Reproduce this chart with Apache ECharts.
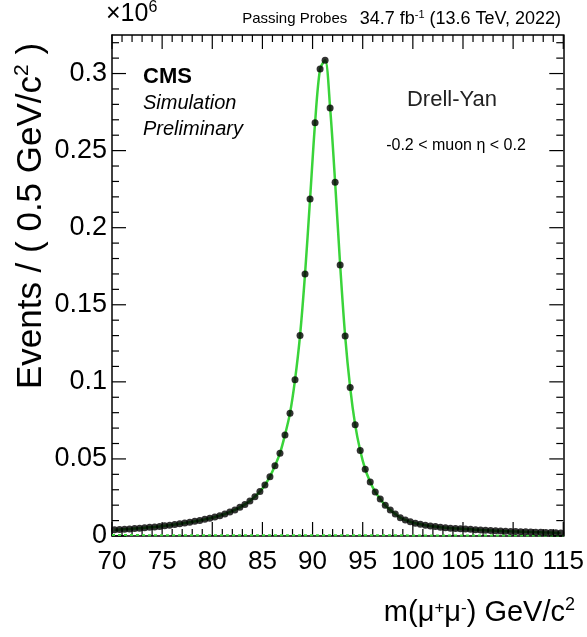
<!DOCTYPE html>
<html><head><meta charset="utf-8">
<script src="https://cdn.jsdelivr.net/npm/echarts@6/dist/echarts.min.js"></script>
<style>html,body{margin:0;padding:0;background:#fff}#c{width:587px;height:637px}</style>
</head><body><div id="c"></div>
<script>
// bin centres (0.5 GeV bins)
const massBins = [70.25,70.75,71.25,71.75,72.25,72.75,73.25,73.75,74.25,74.75,75.25,75.75,76.25,76.75,77.25,77.75,78.25,78.75,79.25,79.75,80.25,80.75,81.25,81.75,82.25,82.75,83.25,83.75,84.25,84.75,85.25,85.75,86.25,86.75,87.25,87.75,88.25,88.75,89.25,89.75,90.25,90.75,91.25,91.75,92.25,92.75,93.25,93.75,94.25,94.75,95.25,95.75,96.25,96.75,97.25,97.75,98.25,98.75,99.25,99.75,100.25,100.75,101.25,101.75,102.25,102.75,103.25,103.75,104.25,104.75,105.25,105.75,106.25,106.75,107.25,107.75,108.25,108.75,109.25,109.75,110.25,110.75,111.25,111.75,112.25,112.75,113.25,113.75,114.25,114.75];
// events per bin (x10^6)
const events = [0.0040,0.0042,0.0044,0.0046,0.0048,0.0050,0.0053,0.0056,0.0059,0.0062,0.0066,0.0070,0.0074,0.0079,0.0084,0.0089,0.0095,0.0101,0.0108,0.0115,0.0123,0.0132,0.0143,0.0155,0.0169,0.0186,0.0205,0.0227,0.0255,0.0288,0.0331,0.0385,0.0455,0.0537,0.0656,0.0797,0.1013,0.1300,0.1700,0.2186,0.2680,0.3030,0.3086,0.2777,0.2294,0.1758,0.1297,0.0963,0.0721,0.0554,0.0433,0.0351,0.0286,0.0240,0.0199,0.0169,0.0143,0.0119,0.0104,0.0092,0.0083,0.0076,0.0070,0.0065,0.0061,0.0057,0.0054,0.0051,0.0049,0.0047,0.0045,0.0043,0.0041,0.0039,0.0037,0.0035,0.0034,0.0032,0.0031,0.0030,0.0029,0.0028,0.0027,0.0026,0.0025,0.0024,0.0023,0.0022,0.0021,0.0020];
// background component of the fit
const bkgX = [70, 80, 90, 100, 110, 115];
const bkgY = [0.0006, 0.0005, 0.0005, 0.0004, 0.0004, 0.0003];
const xTicks = [70,75,80,85,90,95,100,105,110,115];
const yTicks = [0,0.05,0.1,0.15,0.2,0.25,0.3];
const X_MIN = 70, X_MAX = 115, Y_MIN = 0, Y_MAX = 0.325;

const FONT = '"Liberation Sans", Arial, Helvetica, sans-serif';
const chart = echarts.init(document.getElementById('c'), null, {renderer:'canvas'});

function axisBase(isX, position, label) {
  return {
    type:'value', position: position,
    min: isX ? X_MIN : Y_MIN, max: isX ? X_MAX : Y_MAX, interval: isX ? 5 : 0.05,
    splitLine:{show:false},
    axisLine:{show:true, onZero:false, lineStyle:{color:'#000', width:1.5}},
    axisTick:{show:false},
    minorTick:{show:false},
    axisLabel: label
  };
}

// ROOT-style inward ticks on all four frame sides, placed through the axes' scales
// item: [x, y, isMajor, kind (0 = x-axis tick, 1 = y-axis tick)]
const frameTicks = [];
for (let k = 0; k <= 45; k++) { const v = X_MIN + k; frameTicks.push([v, Y_MIN, (k % 5 === 0) ? 1 : 0, 0]); }
for (let k = 0; k <= 32; k++) { const v = k / 100; frameTicks.push([X_MIN, v, (k % 5 === 0) ? 1 : 0, 1]); }

function renderTick(params, api) {
  const x = api.value(0), y = api.value(1), major = api.value(2), kind = api.value(3);
  const len = major ? 14 : 7;
  const st = {stroke:'#000', lineWidth:1.2};
  if (kind === 0) {
    const b = api.coord([x, Y_MIN]), t = api.coord([x, Y_MAX]);
    return {type:'group', children:[
      {type:'line', shape:{x1:b[0], y1:b[1], x2:b[0], y2:b[1]-len}, style:st},
      {type:'line', shape:{x1:t[0], y1:t[1], x2:t[0], y2:t[1]+len}, style:st}
    ]};
  }
  const l = api.coord([X_MIN, y]), r = api.coord([X_MAX, y]);
  return {type:'group', children:[
    {type:'line', shape:{x1:l[0], y1:l[1], x2:l[0]+len, y2:l[1]}, style:st},
    {type:'line', shape:{x1:r[0], y1:r[1], x2:r[0]-len, y2:r[1]}, style:st}
  ]};
}

chart.setOption({
  animation:false,
  backgroundColor:'#fff',
  grid:{left:112, right:23, top:35, bottom:101, containLabel:false},
  xAxis:[
    axisBase(true, 'bottom', {show:true, fontSize:26, color:'#000', fontFamily:FONT, margin:13,
        formatter:v => xTicks.includes(v) ? String(v) : ''}),
    axisBase(true, 'top', {show:false})
  ],
  yAxis:[
    axisBase(false, 'left', {show:true, fontSize:27, color:'#000', fontFamily:FONT, margin:5,
        formatter:v => { const r = Math.round(v*100)/100; return yTicks.some(t => Math.abs(t-v)<1e-9) ? String(r) : ''; }}),
    axisBase(false, 'right', {show:false})
  ],
  series:[
    {type:'custom', xAxisIndex:0, yAxisIndex:0, data:frameTicks, renderItem:renderTick,
      clip:false, silent:true, z:1},
    {type:'line', xAxisIndex:0, yAxisIndex:0, data:bkgX.map((x,i)=>[x,bkgY[i]]),
      showSymbol:false, lineStyle:{color:'#3ad43a', width:2, type:[3,3]}, z:2},
    {type:'line', xAxisIndex:0, yAxisIndex:0, data:massBins.map((x,i)=>[x,events[i]]),
      smooth:0.3, showSymbol:false, lineStyle:{color:'#3ad43a', width:2.5}, z:3},
    {type:'scatter', xAxisIndex:0, yAxisIndex:0, data:massBins.map((x,i)=>[x,events[i]]),
      symbol:'circle', symbolSize:7, itemStyle:{color:'#000'}, z:4}
  ],
  graphic:[
    {type:'text', left:106, top:0, style:{text:'×10{s|6}', fontSize:25, fontFamily:FONT, fill:'#000',
      rich:{s:{fontSize:16, verticalAlign:'top', fontFamily:FONT, padding:[0,0,12,0]}}}},
    {type:'text', right:26, top:9, style:{text:'Passing Probes   {b|34.7 fb}{s|-1}{b| (13.6 TeV, 2022)}', fontSize:15, fontFamily:FONT, fill:'#000',
      rich:{b:{fontSize:18, fontFamily:FONT}, s:{fontSize:11, fontFamily:FONT, padding:[0,0,9,0]}}}},
    {type:'text', left:143, top:66, style:{text:'CMS', fontSize:22, fontWeight:'bold', fontFamily:FONT, fill:'#000'}},
    {type:'text', left:143, top:93, style:{text:'Simulation', fontSize:20, fontStyle:'italic', fontFamily:FONT, fill:'#000'}},
    {type:'text', left:143, top:119, style:{text:'Preliminary', fontSize:20, fontStyle:'italic', fontFamily:FONT, fill:'#000'}},
    {type:'text', x:452, y:100, style:{text:'Drell-Yan', fontSize:22, fontFamily:FONT, fill:'#222', align:'center', verticalAlign:'middle'}},
    {type:'text', x:456, y:146, style:{text:'-0.2 < muon η < 0.2', fontSize:16, fontFamily:FONT, fill:'#000', align:'center', verticalAlign:'middle'}},
    {type:'text', x:31, y:216, rotation:Math.PI/2, style:{text:'Events / ( 0.5 GeV/c{s|2} )', fontSize:35, fontFamily:FONT, fill:'#000', align:'center', verticalAlign:'middle',
      rich:{s:{fontSize:21, fontFamily:FONT, padding:[0,0,18,0]}}}},
    {type:'text', right:12, top:596, style:{text:'m(μ{s|+}μ{s|-}) GeV/c{t|2}', fontSize:29, fontFamily:FONT, fill:'#000',
      rich:{s:{fontSize:17, fontFamily:FONT, padding:[0,0,9,0]}, t:{fontSize:18, fontFamily:FONT, padding:[0,0,16,0]}}}}
  ]
});
</script></body></html>
